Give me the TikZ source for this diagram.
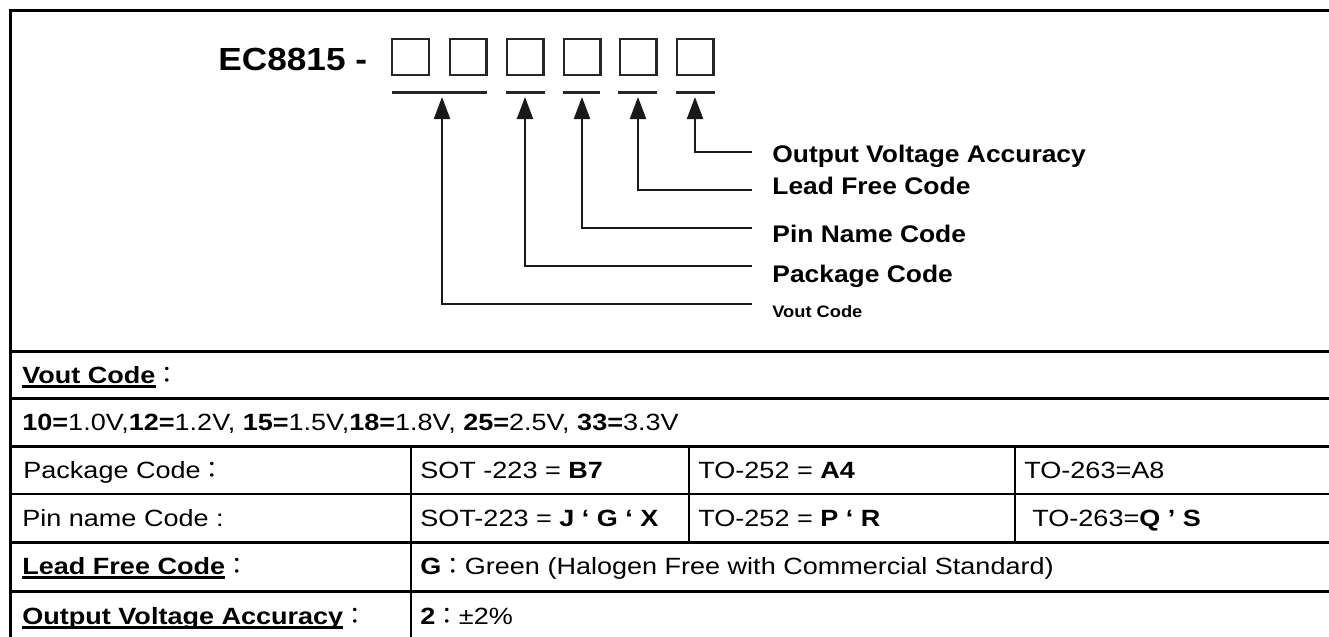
\documentclass[tikz,border=0pt]{standalone}
\usepackage{fontspec}
\setmainfont{Liberation Sans}[FakeStretch=1.1]
\newfontfamily\tblfont{Liberation Sans}[FakeStretch=1.15]
\newfontfamily\cjk{Noto Sans CJK TC}
\usetikzlibrary{arrows.meta}
\newcommand\myul[1]{\setbox0\hbox{#1}\rlap{\rule[-2.4pt]{\wd0}{1.2pt}}\box0}
\newcommand\fc{{\cjk ：}}
\begin{document}
\begin{tikzpicture}[x=0.5pt,y=-0.5pt,
  tbl/.style={anchor=base west, inner sep=0pt, font=\tblfont\fontsize{11.75}{14}\selectfont},
  lbl/.style={anchor=base west, inner sep=0pt, font=\fontsize{12}{14}\selectfont\bfseries},
  digitbox/.style={draw=black!85, line width=1.2pt, minimum width=18.3pt, minimum height=17.8pt, inner sep=0pt},
  uline/.style={line width=1.5pt, draw=black!85},
  conn/.style={line width=1.1pt, draw=black!90, -{Triangle[length=11pt,width=8pt]}},
  thickrule/.style={line width=1.5pt},
  thinrule/.style={line width=1pt}]
\useasboundingbox (0,0) rectangle (1329,637);
% outer border and table rules
\draw[thickrule] (10,637) -- (10,10) -- (1329,10);
\draw[thickrule] (10,351) -- (1329,351);
\draw[thickrule] (10,398) -- (1329,398);
\draw[thickrule] (10,446) -- (1329,446);
\draw[thinrule]  (10,494) -- (1329,494);
\draw[thickrule] (10,542) -- (1329,542);
\draw[thickrule] (10,591) -- (1329,591);
\draw[thinrule] (411,446) -- (411,637);
\draw[thinrule] (689,446) -- (689,542);
\draw[thinrule] (1015,446) -- (1015,542);
% part number
\node[anchor=base west, inner sep=0pt, font=\fontsize{16}{18}\selectfont\bfseries] (pn) at (218,70) {EC8815 -};
\node[digitbox] (b1) at (410.5,57) {};
\node[digitbox] (b2) at (468,57) {};
\node[digitbox] (b3) at (525,57) {};
\node[digitbox] (b4) at (582,57) {};
\node[digitbox] (b5) at (638,57) {};
\node[digitbox] (b6) at (695,57) {};
\draw[uline] (392,92) -- (487,92);
\draw[uline] (506,92) -- (545,92);
\draw[uline] (563,92) -- (600,92);
\draw[uline] (618,92) -- (657,92);
\draw[uline] (676,92) -- (715,92);
% arrow tips and line ends
\coordinate (t1) at (442,97);
\coordinate (t2) at (525,97);
\coordinate (t3) at (582,97);
\coordinate (t4) at (638,97);
\coordinate (t5) at (695,97);
\coordinate (e1) at (752,304);
\coordinate (e2) at (752,266);
\coordinate (e3) at (752,228);
\coordinate (e4) at (752,190);
\coordinate (e5) at (752,152);
\draw[conn] (e1) -| (t1);
\draw[conn] (e2) -| (t2);
\draw[conn] (e3) -| (t3);
\draw[conn] (e4) -| (t4);
\draw[conn] (e5) -| (t5);
% labels
\node[lbl] (lout) at (772,162) {Output Voltage Accuracy};
\node[lbl] (llead) at (772,194) {Lead Free Code};
\node[lbl] (lpin) at (772,242) {Pin Name Code};
\node[lbl] (lpkg) at (772,282) {Package Code};
\node[anchor=base west, inner sep=0pt, font=\fontsize{8.3}{10}\selectfont\bfseries] (lvout) at (772,317) {Vout Code};
% table text
\node[tbl] (r1) at (22,383) {\textbf{\myul{Vout Code}}\fc};
\node[tbl] (r2) at (22,430) {\textbf{10=}1.0V,\textbf{12=}1.2V, \textbf{15=}1.5V,\textbf{18=}1.8V, \textbf{25=}2.5V, \textbf{33=}3.3V};
\node[tbl] (r3a) at (23,478) {Package Code\fc};
\node[tbl] (r3b) at (420,478) {SOT -223 = \textbf{B7}};
\node[tbl] (r3c) at (698,478) {TO-252 = \textbf{A4}};
\node[tbl] (r3d) at (1024,478) {TO-263=A8};
\node[tbl] (r4a) at (22,526) {Pin name Code :};
\node[tbl] (r4b) at (420,526) {SOT-223 = \textbf{J ‘ G ‘ X}};
\node[tbl] (r4c) at (698,526) {TO-252 = \textbf{P ‘ R}};
\node[tbl] (r4d) at (1032,526) {TO-263=\textbf{Q ’ S}};
\node[tbl] (r5a) at (22,574) {\textbf{\myul{Lead Free Code}}\fc};
\node[tbl] (r5b) at (420,574) {\textbf{G}\fc Green (Halogen Free with Commercial Standard)};
\node[tbl] (r6a) at (22,624) {\textbf{\myul{Output Voltage Accuracy}}\fc};
\node[tbl] (r6b) at (420,624) {\textbf{2}\fc ±2\%};
\end{tikzpicture}
\end{document}
